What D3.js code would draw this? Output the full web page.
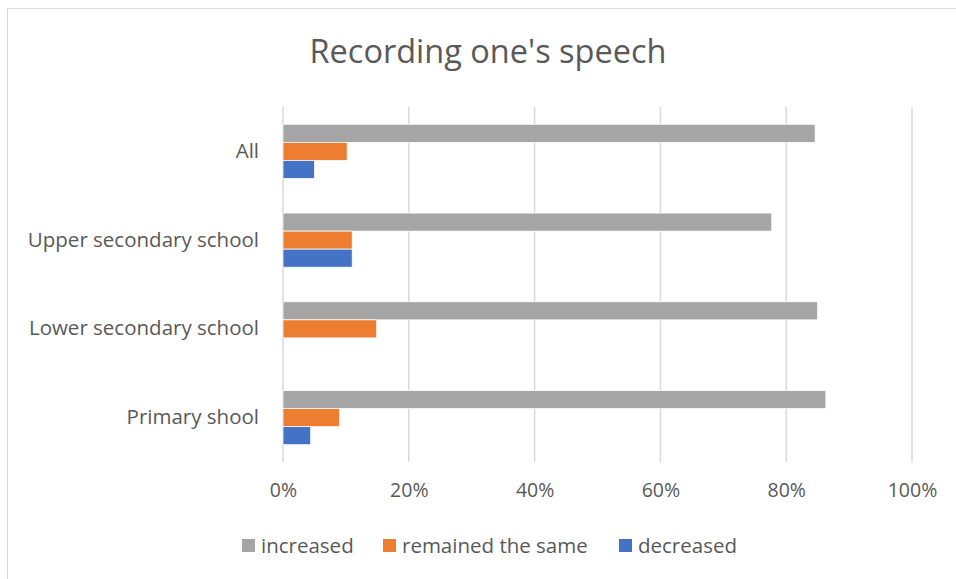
<!DOCTYPE html>
<html>
<head>
<meta charset="utf-8">
<script src="https://cdn.jsdelivr.net/npm/d3@7"></script>
<style>
  html, body { margin: 0; padding: 0; background: #fff; }
  svg { display: block; font-family: "Open Sans", sans-serif; }
</style>
</head>
<body>
<svg id="chart" width="956" height="579"></svg>
<script>
// chart data
const categories = ['All', 'Upper secondary school', 'Lower secondary school', 'Primary shool'];
const seriesNames = ['increased', 'remained the same', 'decreased'];
const increased = [84.6, 77.7, 85.0, 86.3];
const remainedSame = [10.2, 11.0, 14.9, 9.0];
const decreased = [5.0, 11.0, 0, 4.4];
const ticks = [0, 20, 40, 60, 80, 100];
const colors = ['#a5a5a5', '#ed7d31', '#4472c4'];

const seriesValues = [increased, remainedSame, decreased];
const svg = d3.select('#chart');
const width = 956;
const height = 579;
const margin = { top: 107, right: 44, bottom: 117, left: 283 };
const font = '"Open Sans", sans-serif';

// outer chart border (runs off the right and bottom edge)
svg.append('rect')
  .attr('x', 7.5).attr('y', 8.5)
  .attr('width', 980).attr('height', 600)
  .attr('fill', 'none').attr('stroke', '#d9d9d9');

svg.append('text')
  .attr('x', 488).attr('y', 63)
  .attr('text-anchor', 'middle')
  .attr('font-size', 32.5)
  .attr('fill', '#595959')
  .text("Recording one's speech");

const x = d3.scaleLinear()
  .domain([0, 100])
  .range([margin.left, width - margin.right]);

const y = d3.scaleBand()
  .domain(categories)
  .range([margin.top, height - margin.bottom])
  .paddingInner(0.39)
  .paddingOuter(0.195);

const ySub = d3.scaleBand()
  .domain(seriesNames)
  .range([0, y.bandwidth()]);

// gridlines
svg.append('g')
  .selectAll('line')
  .data(ticks)
  .join('line')
  .attr('x1', (d) => x(d)).attr('x2', (d) => x(d))
  .attr('y1', margin.top).attr('y2', height - margin.bottom)
  .attr('stroke', '#d9d9d9')
  .attr('stroke-width', 1.5);

// x axis labels
const xAxis = svg.append('g')
  .attr('transform', `translate(0,${height - margin.bottom})`)
  .call(d3.axisBottom(x).tickValues(ticks).tickFormat((d) => d + '%').tickSize(0).tickPadding(21));
xAxis.select('.domain').remove();
xAxis.selectAll('text').attr('font-size', 19.5).attr('fill', '#595959').attr('font-family', font);

// y axis labels
const yAxis = svg.append('g')
  .attr('transform', `translate(${margin.left},0)`)
  .call(d3.axisLeft(y).tickSize(0).tickPadding(24));
yAxis.select('.domain').remove();
yAxis.selectAll('text').attr('font-size', 20.5).attr('fill', '#595959').attr('font-family', font);

// bars
const rows = [];
categories.forEach((cat, i) => {
  seriesNames.forEach((s, j) => {
    rows.push({ cat, series: s, value: seriesValues[j][i], color: colors[j] });
  });
});

svg.append('g')
  .selectAll('rect')
  .data(rows.filter((d) => d.value > 0))
  .join('rect')
  .attr('x', x(0))
  .attr('y', (d) => y(d.cat) + ySub(d.series))
  .attr('width', (d) => x(d.value) - x(0))
  .attr('height', ySub.bandwidth())
  .attr('fill', (d) => d.color)
  .attr('stroke', '#fff')
  .attr('stroke-width', 0.75);

// legend
const legendX = [242, 383, 619];
const legend = svg.append('g')
  .selectAll('g')
  .data(seriesNames)
  .join('g')
  .attr('transform', (d, i) => `translate(${legendX[i]},539)`);
legend.append('rect')
  .attr('width', 13).attr('height', 13)
  .attr('fill', (d, i) => colors[i]);
legend.append('text')
  .attr('x', 19).attr('y', 14)
  .attr('font-size', 20.5)
  .attr('fill', '#595959')
  .text((d) => d);
</script>
</body>
</html>
